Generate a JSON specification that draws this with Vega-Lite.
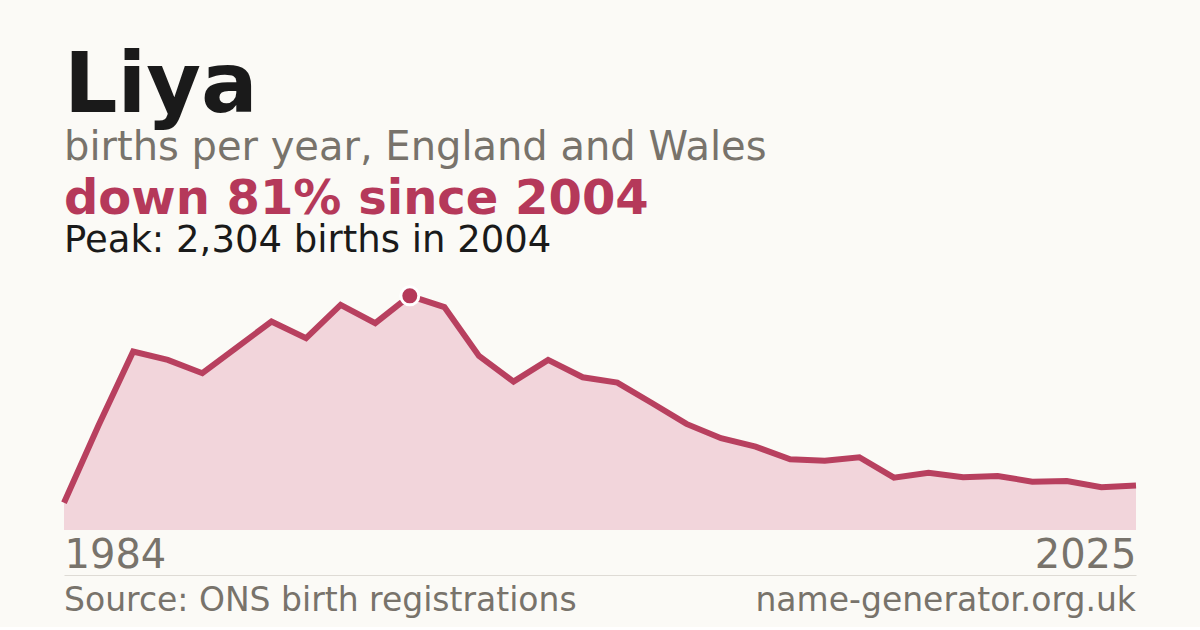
{
  "$schema": "https://vega.github.io/schema/vega-lite/v6.json",
  "background": "#fbfaf6",
  "padding": {"left": 52, "right": 52, "top": 45, "bottom": 0},
  "title": {
    "text": "Liya",
    "subtitle": "births per year, England and Wales",
    "anchor": "start",
    "frame": "group",
    "offset": 7,
    "font": "DejaVu Sans",
    "fontSize": 84,
    "fontWeight": "bold",
    "color": "#1a1a1a",
    "subtitleFont": "DejaVu Sans",
    "subtitleFontSize": 40,
    "subtitleColor": "#78736b",
    "subtitlePadding": -2
  },
  "spacing": -6,
  "vconcat": [
    {
      "width": 1072,
      "height": 250,
      "title": {
        "text": "down 81% since 2004",
        "subtitle": "Peak: 2,304 births in 2004",
        "anchor": "start",
        "frame": "group",
        "offset": 21,
        "font": "DejaVu Sans",
        "fontSize": 48,
        "fontWeight": "bold",
        "color": "#b5395a",
        "subtitleFont": "DejaVu Sans",
        "subtitleFontSize": 37,
        "subtitleColor": "#1a1a1a",
        "subtitlePadding": -1
      },
      "data": {
        "values": [
          {"year": 1994, "births": 269},
          {"year": 1995, "births": 1030},
          {"year": 1996, "births": 1756},
          {"year": 1997, "births": 1674},
          {"year": 1998, "births": 1543},
          {"year": 1999, "births": 1797},
          {"year": 2000, "births": 2051},
          {"year": 2001, "births": 1887},
          {"year": 2002, "births": 2215},
          {"year": 2003, "births": 2035},
          {"year": 2004, "births": 2304},
          {"year": 2005, "births": 2193},
          {"year": 2006, "births": 1713},
          {"year": 2007, "births": 1460},
          {"year": 2008, "births": 1674},
          {"year": 2009, "births": 1503},
          {"year": 2010, "births": 1450},
          {"year": 2011, "births": 1250},
          {"year": 2012, "births": 1044},
          {"year": 2013, "births": 903},
          {"year": 2014, "births": 820},
          {"year": 2015, "births": 696},
          {"year": 2016, "births": 682},
          {"year": 2017, "births": 716},
          {"year": 2018, "births": 515},
          {"year": 2019, "births": 564},
          {"year": 2020, "births": 519},
          {"year": 2021, "births": 532},
          {"year": 2022, "births": 476},
          {"year": 2023, "births": 482},
          {"year": 2024, "births": 420},
          {"year": 2025, "births": 438}
        ]
      },
      "encoding": {
        "x": {
          "field": "year",
          "type": "quantitative",
          "scale": {"domain": [1994, 2025], "nice": false, "zero": false},
          "axis": {
            "values": [1994, 2025],
            "format": "d",
            "labelExpr": "datum.value == 1994 ? '1984' : datum.label",
            "labelFlush": true,
            "labelFont": "DejaVu Sans",
            "labelFontSize": 40,
            "labelColor": "#78736b",
            "labelPadding": 5,
            "ticks": false,
            "tickSize": 0,
            "domain": false,
            "grid": false,
            "title": null
          }
        },
        "y": {
          "field": "births",
          "type": "quantitative",
          "scale": {"domain": [0, 2460], "nice": false},
          "axis": null
        }
      },
      "layer": [
        {"mark": {"type": "area", "color": "#f2d5db", "opacity": 1}},
        {"mark": {"type": "line", "color": "#b8405f", "strokeWidth": 6, "strokeCap": "butt"}},
        {
          "transform": [{"filter": "datum.year == 2004"}],
          "mark": {"type": "point", "shape": "circle", "filled": true, "fill": "#b5395a", "stroke": "#ffffff", "strokeWidth": 3, "size": 324, "opacity": 1}
        }
      ]
    },
    {
      "width": 1072,
      "height": 52,
      "data": {
        "values": [
          {"label": "Source: ONS birth registrations", "role": "source"},
          {"label": "name-generator.org.uk", "role": "site"}
        ]
      },
      "encoding": {
        "x": {
          "field": "role",
          "type": "nominal",
          "scale": {"type": "point", "domain": ["source", "site"], "padding": 0},
          "axis": {
            "orient": "top",
            "labels": false,
            "ticks": false,
            "domain": true,
            "domainColor": "#dedbd5",
            "domainWidth": 1,
            "grid": false,
            "title": null
          }
        },
        "text": {"field": "label"}
      },
      "layer": [
        {
          "transform": [{"filter": "datum.role == 'source'"}],
          "mark": {"type": "text", "align": "left", "baseline": "middle", "font": "DejaVu Sans", "fontSize": 33, "color": "#78736b"}
        },
        {
          "transform": [{"filter": "datum.role == 'site'"}],
          "mark": {"type": "text", "align": "right", "baseline": "middle", "font": "DejaVu Sans", "fontSize": 33, "color": "#78736b"}
        }
      ]
    }
  ],
  "config": {
    "view": {"stroke": null}
  }
}
